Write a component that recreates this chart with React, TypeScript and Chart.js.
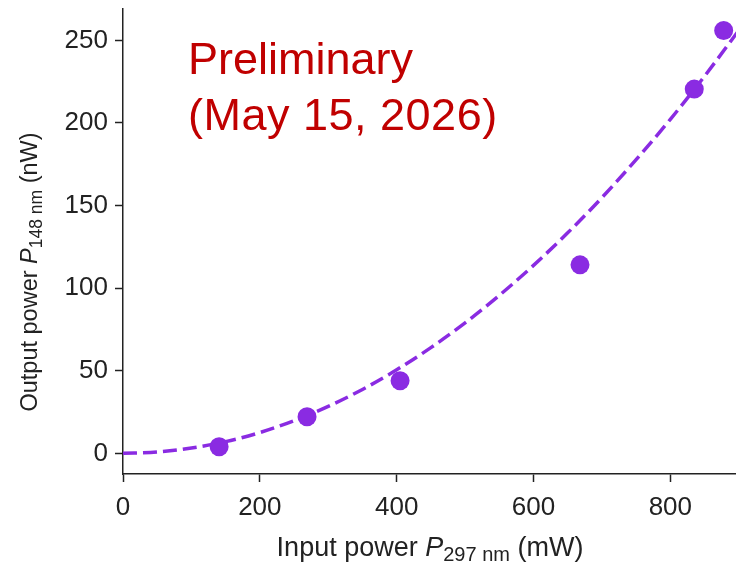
import React, { useEffect, useRef } from "react";
import { Chart, registerables } from "chart.js";

Chart.register(...registerables);

// Measured data points
const inputPower = [140.5, 269, 405, 668, 835, 878];
const outputPower = [4.0, 22.2, 44, 114.1, 220.5, 256];

// Dashed fit curve
const fitX = [0, 50, 100, 150, 200, 250, 300, 350, 400, 450, 500, 550, 600, 650, 700, 750, 800, 850, 900];
const fitY = [0, 0.8, 3.2, 7.1, 12.6, 19.8, 28.4, 38.7, 50.6, 64.0, 79.0, 95.6, 113.8, 133.5, 154.8, 177.8, 202.2, 228.3, 256];

const xTicks = [0, 200, 400, 600, 800];
const yTicks = [0, 50, 100, 150, 200, 250];

const FONT = '"Liberation Sans", Arial, sans-serif';
const PURPLE = "#8a2be2";
const INK = "#222222";

function drawRich(ctx: CanvasRenderingContext2D, segs: { t: string; f: string; dy?: number }[], cx: number, by: number) {
  let total = 0;
  for (const s of segs) {
    ctx.font = s.f;
    total += ctx.measureText(s.t).width;
  }
  let x = cx - total / 2;
  ctx.textBaseline = "alphabetic";
  ctx.textAlign = "left";
  for (const s of segs) {
    ctx.font = s.f;
    ctx.fillText(s.t, x, by + (s.dy || 0));
    x += ctx.measureText(s.t).width;
  }
}

const titlesPlugin = {
  id: "titles",
  afterDraw(chart: any) {
    const ctx = chart.ctx as CanvasRenderingContext2D;
    ctx.save();
    ctx.fillStyle = INK;
    drawRich(
      ctx,
      [
        { t: "Input power ", f: `27px ${FONT}` },
        { t: "P", f: `italic 27px ${FONT}` },
        { t: "297 nm", f: `20px ${FONT}`, dy: 5 },
        { t: " (mW)", f: `27px ${FONT}` },
      ],
      430,
      556
    );
    ctx.translate(37, 272);
    ctx.rotate(-Math.PI / 2);
    drawRich(
      ctx,
      [
        { t: "Output power ", f: `23.5px ${FONT}` },
        { t: "P", f: `italic 23.5px ${FONT}` },
        { t: "148 nm", f: `17.5px ${FONT}`, dy: 4.5 },
        { t: " (nW)", f: `23.5px ${FONT}` },
      ],
      0,
      0
    );
    ctx.restore();

    ctx.save();
    ctx.fillStyle = "#c00000";
    ctx.font = `45px ${FONT}`;
    ctx.textAlign = "left";
    ctx.textBaseline = "alphabetic";
    ctx.fillText("Preliminary", 188, 74);
    (ctx as any).letterSpacing = "0.5px";
    ctx.fillText("(May 15, 2026)", 188, 130);
    ctx.restore();
  },
};

export default function App() {
  const ref = useRef<HTMLCanvasElement>(null);
  useEffect(() => {
    if (!ref.current) return;
    const chart = new Chart(ref.current, {
      type: "scatter",
      data: {
        datasets: [
          {
            label: "fit",
            data: fitX.map((x, i) => ({ x, y: fitY[i] })),
            showLine: true,
            borderColor: PURPLE,
            borderWidth: 3.5,
            borderDash: [14, 6],
            pointRadius: 0,
            tension: 0.4,
            cubicInterpolationMode: "monotone",
            order: 2,
          } as any,
          {
            label: "data",
            data: inputPower.map((x, i) => ({ x, y: outputPower[i] })),
            backgroundColor: PURPLE,
            borderColor: PURPLE,
            borderWidth: 0,
            pointRadius: 9.5,
            order: 1,
          },
        ],
      },
      options: {
        animation: false,
        responsive: false,
        maintainAspectRatio: false,
        layout: { autoPadding: false, padding: { left: 0, right: 0, top: 9, bottom: 0 } },
        plugins: { legend: { display: false }, tooltip: { enabled: false } },
        scales: {
          x: {
            type: "linear",
            min: 0,
            max: 896,
            afterBuildTicks: (s: any) => {
              s.ticks = xTicks.map((v) => ({ value: v }));
            },
            afterFit: (s: any) => {
              s.height = 89;
              s.paddingLeft = 0;
              s.paddingRight = 0;
            },
            grid: { display: true, drawOnChartArea: false, drawTicks: true, tickLength: 8, tickWidth: 1.5, tickColor: INK },
            border: { display: true, color: INK, width: 1.5 },
            ticks: { color: INK, font: { family: FONT, size: 26 }, padding: 10, maxRotation: 0 },
          },
          y: {
            type: "linear",
            min: -12.5,
            max: 269,
            afterBuildTicks: (s: any) => {
              s.ticks = yTicks.map((v) => ({ value: v }));
            },
            afterFit: (s: any) => {
              s.width = 123;
              s.paddingTop = 0;
              s.paddingBottom = 0;
            },
            grid: { display: true, drawOnChartArea: false, drawTicks: true, tickLength: 8, tickWidth: 1.5, tickColor: INK },
            border: { display: true, color: INK, width: 1.5 },
            ticks: { color: INK, font: { family: FONT, size: 26 }, padding: 7 },
          },
        },
      },
      plugins: [titlesPlugin],
    } as any);
    return () => chart.destroy();
  }, []);
  return (
    <div style={{ position: "fixed", left: 0, top: 0, width: 736, height: 563, background: "#fff" }}>
      <canvas ref={ref} width={736} height={563} style={{ width: 736, height: 563, display: "block" }} />
    </div>
  );
}
